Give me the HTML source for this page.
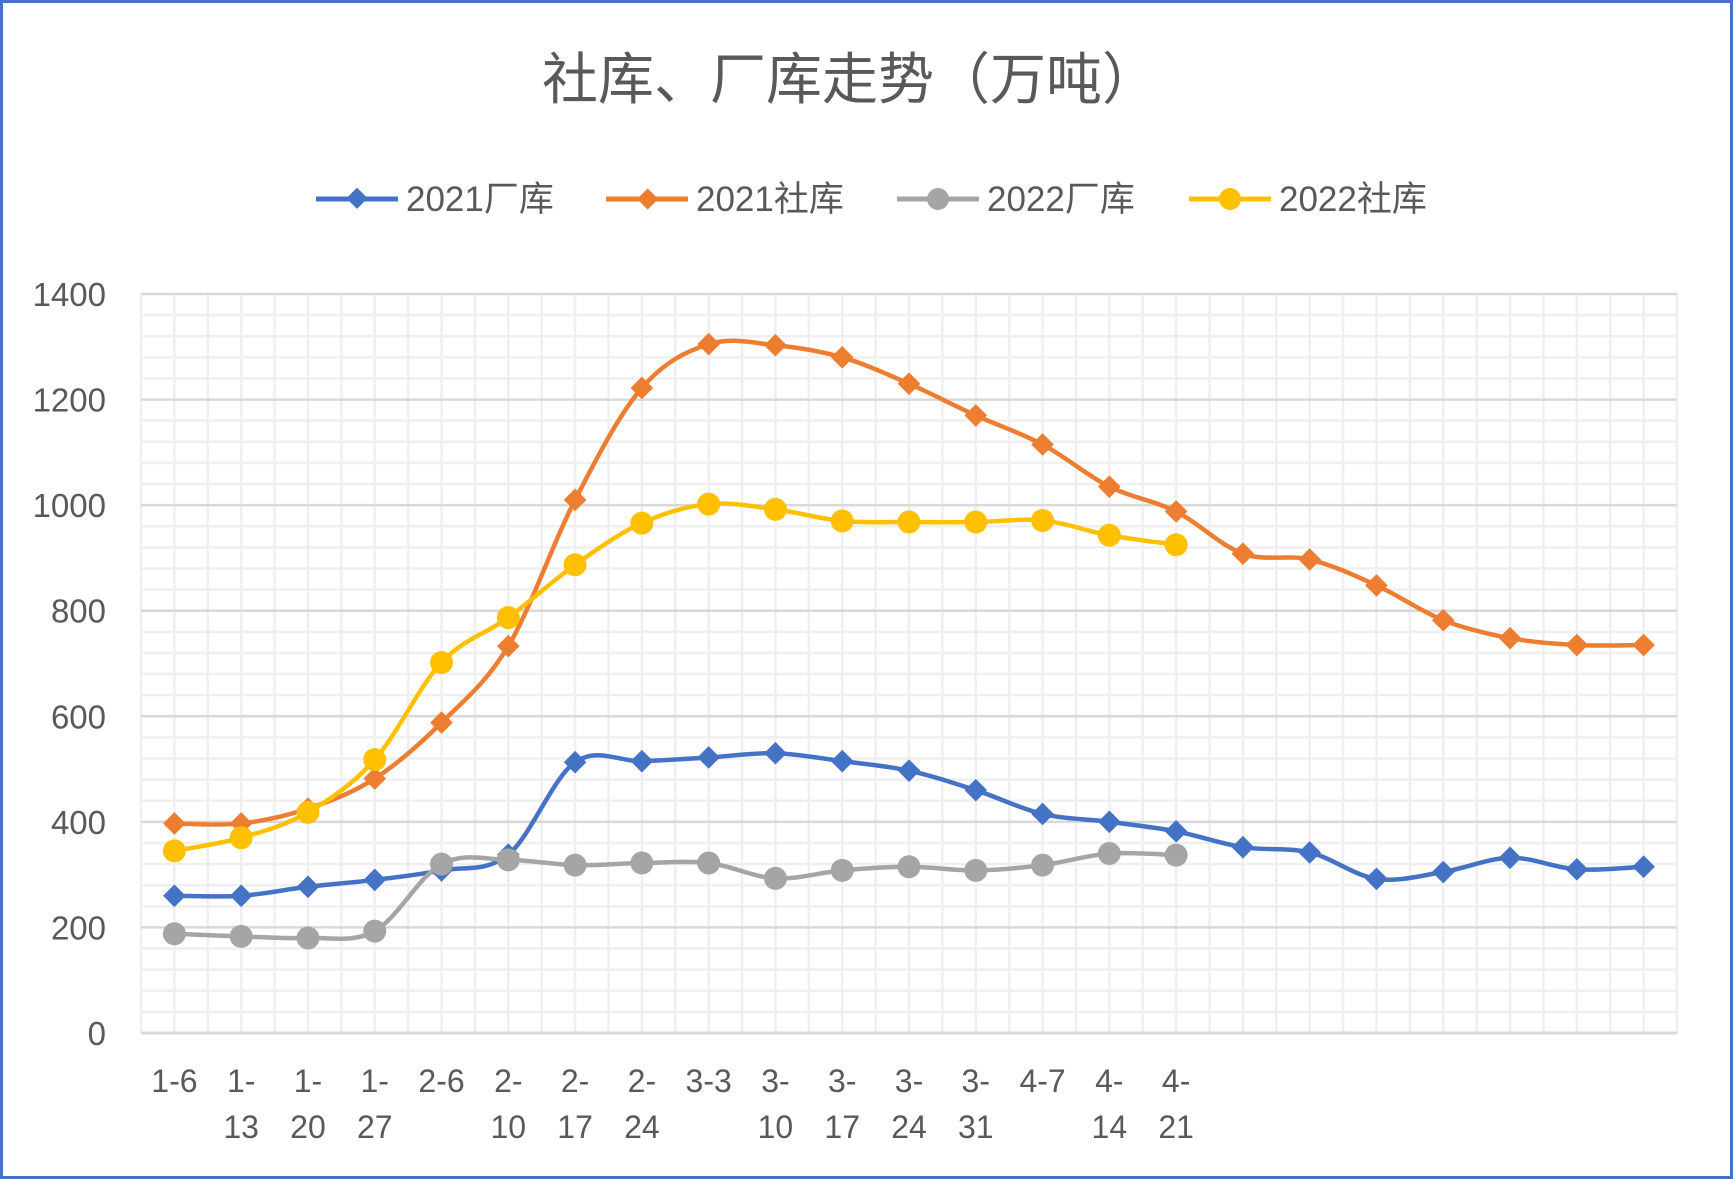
<!DOCTYPE html>
<html><head><meta charset="utf-8"><style>
html,body{margin:0;padding:0;background:#fff}
svg{display:block}
text{font-family:"Liberation Sans","Noto Sans CJK SC",sans-serif;fill:#595959}
</style></head><body>
<svg id="c" width="1733" height="1179" xmlns="http://www.w3.org/2000/svg">
<rect x="1.5" y="1.5" width="1730" height="1176" fill="#fff" stroke="#4472C4" stroke-width="3"/>
<text x="850" y="99" font-size="56" text-anchor="middle">社库、厂库走势（万吨）</text>
<g id="grid"></g>
<g id="series"></g>
<g id="legend" font-size="35">
<line x1="316" y1="199" x2="398" y2="199" stroke="#4472C4" stroke-width="5"/><rect x="349" y="191" width="15" height="15" fill="#4472C4" transform="rotate(45 357 199)"/><text x="406" y="211">2021厂库</text>
<line x1="606" y1="199" x2="688" y2="199" stroke="#ED7D31" stroke-width="5"/><rect x="640" y="191" width="15" height="15" fill="#ED7D31" transform="rotate(45 647 199)"/><text x="696" y="211">2021社库</text>
<line x1="897" y1="199" x2="979" y2="199" stroke="#A5A5A5" stroke-width="5"/><circle cx="938" cy="199" r="11" fill="#A5A5A5"/><text x="987" y="211">2022厂库</text>
<line x1="1189" y1="199" x2="1271" y2="199" stroke="#FFC000" stroke-width="5"/><circle cx="1230" cy="199" r="11" fill="#FFC000"/><text x="1279" y="211">2022社库</text>
</g>
</svg>
<script>
var L=141,R=1677,T=294,B=1033,N=23,w=(R-L)/N;
function X(i){return L+w*(i+0.5)}
function Y(v){return B-(B-T)*v/1400}
var g='';
for(var v=0;v<=1400;v+=40){var y=Y(v);if(v%200)g+='<line x1="'+L+'" x2="'+R+'" y1="'+y+'" y2="'+y+'" stroke="#EFEFEF" stroke-width="2.5"/>';}
for(var k=0;k<=2*N;k++){var x=L+k*w/2;g+='<line x1="'+x+'" x2="'+x+'" y1="'+T+'" y2="'+B+'" stroke="#EFEFEF" stroke-width="2.5"/>';}
for(var v=200;v<=1400;v+=200){var y=Y(v);g+='<line x1="'+L+'" x2="'+R+'" y1="'+y+'" y2="'+y+'" stroke="#D9D9D9" stroke-width="2.5"/>';}
g+='<line x1="'+L+'" x2="'+R+'" y1="'+B+'" y2="'+B+'" stroke="#D9D9D9" stroke-width="3"/>';
for(var v=0;v<=1400;v+=200)g+='<text x="106" y="'+(Y(v)+12)+'" font-size="33" text-anchor="end">'+v+'</text>';
var lab=[["1-6"],["1-","13"],["1-","20"],["1-","27"],["2-6"],["2-","10"],["2-","17"],["2-","24"],["3-3"],["3-","10"],["3-","17"],["3-","24"],["3-","31"],["4-7"],["4-","14"],["4-","21"]];
lab.forEach(function(a,i){a.forEach(function(t,j){g+='<text x="'+X(i)+'" y="'+(1092+j*46)+'" font-size="32" text-anchor="middle">'+t+'</text>';});});
document.getElementById('grid').innerHTML=g;
var S=[
["#4472C4","d",[260,260,277,290,308,338,513,515,522,530,515,497,460,415,400,382,352,342,292,305,332,310,315]],
["#ED7D31","d",[397,397,425,482,588,733,1010,1222,1305,1303,1280,1230,1170,1115,1035,988,908,897,848,782,748,735,735]],
["#A5A5A5","c",[188,183,180,193,320,328,318,322,322,293,308,315,308,318,340,337]],
["#FFC000","c",[345,370,418,518,702,787,887,966,1002,992,970,968,968,971,943,925]]];
var s='';
S.forEach(function(o){var p=o[2].map(function(v,i){return[X(i),Y(v)]});
var d='M'+p[0][0]+','+p[0][1];
for(var i=0;i<p.length-1;i++){var p0=p[i-1]||p[i],p1=p[i],p2=p[i+1],p3=p[i+2]||p2,t=6;
d+=' C'+(p1[0]+(p2[0]-p0[0])/t)+','+(p1[1]+(p2[1]-p0[1])/t)+' '+(p2[0]-(p3[0]-p1[0])/t)+','+(p2[1]-(p3[1]-p1[1])/t)+' '+p2[0]+','+p2[1];}
s+='<path d="'+d+'" fill="none" stroke="'+o[0]+'" stroke-width="4.5"/>';
p.forEach(function(q){if(o[1]=='d')s+='<rect x="'+(q[0]-8)+'" y="'+(q[1]-8)+'" width="16" height="16" fill="'+o[0]+'" transform="rotate(45 '+q[0]+' '+q[1]+')"/>';else s+='<circle cx="'+q[0]+'" cy="'+q[1]+'" r="11.5" fill="'+o[0]+'"/>';});});
document.getElementById('series').innerHTML=s;
</script>
</body></html>
